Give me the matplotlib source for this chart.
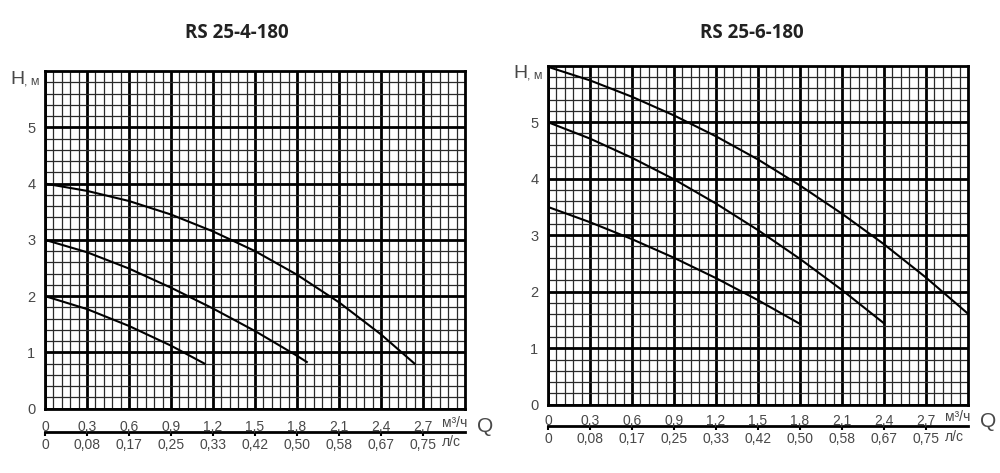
import matplotlib
matplotlib.use("Agg")
import matplotlib.pyplot as plt
from matplotlib.ticker import MultipleLocator

plt.rcParams['font.family'] = ['Liberation Sans', 'DejaVu Sans']

# ---------------- data ----------------
titles = ["RS 25-4-180", "RS 25-6-180"]
q_ticks = [0, 0.3, 0.6, 0.9, 1.2, 1.5, 1.8, 2.1, 2.4, 2.7]
q_labels = ["0", "0,3", "0,6", "0,9", "1,2", "1,5", "1,8", "2,1", "2,4", "2,7"]
ls_labels = ["0", "0,08", "0,17", "0,25", "0,33", "0,42", "0,50", "0,58", "0,67", "0,75"]
h_ticks = [0, 1, 2, 3, 4, 5]
h_labels = ["0", "1", "2", "3", "4", "5"]

# RS 25-4-180 curves (Q m3/h, H m)
a_q1 = [0, 0.3, 0.6, 0.9, 1.2, 1.5, 1.8, 2.1, 2.4, 2.64]
a_h1 = [4.0, 3.87, 3.69, 3.45, 3.15, 2.80, 2.38, 1.89, 1.32, 0.80]
a_q2 = [0, 0.3, 0.6, 0.9, 1.2, 1.5, 1.8, 1.87]
a_h2 = [3.0, 2.78, 2.49, 2.15, 1.78, 1.38, 0.94, 0.83]
a_q3 = [0, 0.3, 0.6, 0.9, 1.14]
a_h3 = [2.0, 1.77, 1.47, 1.12, 0.80]

# RS 25-6-180 curves
b_q1 = [0, 0.3, 0.6, 0.9, 1.2, 1.5, 1.8, 2.1, 2.4, 2.7, 3.0]
b_h1 = [5.98, 5.74, 5.45, 5.12, 4.75, 4.34, 3.88, 3.38, 2.84, 2.25, 1.61]
b_q2 = [0, 0.3, 0.6, 0.9, 1.2, 1.5, 1.8, 2.1, 2.4]
b_h2 = [5.0, 4.71, 4.37, 3.99, 3.56, 3.09, 2.58, 2.03, 1.44]
b_q3 = [0, 0.3, 0.6, 0.9, 1.2, 1.5, 1.8]
b_h3 = [3.5, 3.23, 2.93, 2.60, 2.24, 1.85, 1.43]

W, H = 1000, 473
fig = plt.figure(figsize=(W / 100, H / 100), dpi=100)

def px_rect(x0, y_top, x1, y_bot):
    return [x0 / W, 1 - y_bot / H, (x1 - x0) / W, (y_bot - y_top) / H]

TXT = '#484848'

def make_panel(rect, curves, title, title_xy, sec_loc, lab_pad, units_xy, q_xy, h_xy):
    ax = fig.add_axes(rect)
    ax.set_xlim(0, 3.0)
    ax.set_ylim(0, 6.0)
    ax.xaxis.set_major_locator(MultipleLocator(0.3))
    ax.xaxis.set_minor_locator(MultipleLocator(0.06))
    ax.yaxis.set_major_locator(MultipleLocator(1))
    ax.yaxis.set_minor_locator(MultipleLocator(0.2))
    ax.grid(which='minor', color='#2a2a2a', lw=0.9)
    ax.grid(which='major', color='black', lw=2.0)
    ax.set_axisbelow(True)
    for s in ax.spines.values():
        s.set_linewidth(2.0)
        s.set_color('black')
    ax.set_xticks(q_ticks)
    ax.set_xticklabels(q_labels)
    ax.set_yticks(h_ticks)
    ax.set_yticklabels(h_labels)
    ax.tick_params(which='both', length=0)
    ax.tick_params(axis='x', pad=lab_pad, labelsize=10, labelcolor=TXT)
    ax.tick_params(axis='y', pad=7, labelsize=10.5, labelcolor=TXT)
    for q, h in curves:
        ax.plot(q, h, color='black', lw=1.5, solid_joinstyle='round')
    sec = ax.secondary_xaxis(sec_loc)
    sec.set_xticks(q_ticks)
    sec.set_xticklabels(ls_labels)
    sec.spines['bottom'].set_linewidth(2.0)
    sec.tick_params(length=3, width=1.5, pad=1.5, labelsize=10, labelcolor=TXT, direction='out')
    fig.text(title_xy[0] / W, 1 - title_xy[1] / H, title, ha='center', va='center',
             fontsize=13.5, fontweight='bold', color='#222222', family=['Open Sans', 'DejaVu Sans'])
    ux, uy1, uy2 = units_xy
    fig.text(ux / W, 1 - uy1 / H, "м³/ч", ha='left', va='center', fontsize=10, color=TXT)
    fig.text(ux / W, 1 - uy2 / H, "л/с", ha='left', va='center', fontsize=10, color=TXT)
    fig.text(q_xy[0] / W, 1 - q_xy[1] / H, "Q", ha='center', va='center', fontsize=15, color=TXT)
    fig.text(h_xy[0] / W, 1 - h_xy[1] / H, "H", ha='center', va='center', fontsize=14, color=TXT)
    fig.text((h_xy[0] + 7) / W, 1 - (h_xy[1] + 1) / H, ", м", ha='left', va='center', fontsize=9, color=TXT)
    return ax

make_panel(px_rect(45, 71, 465, 408.7), [(a_q1, a_h1), (a_q2, a_h2), (a_q3, a_h3)],
           titles[0], (237, 33), -0.069, 8, (442, 423, 441.5), (485, 426), (17, 80))
make_panel(px_rect(548, 65.7, 968, 404.7), [(b_q1, b_h1), (b_q2, b_h2), (b_q3, b_h3)],
           titles[1], (752, 33), -0.063, 7, (945, 417, 437), (988, 421), (520, 74))

fig.savefig("out.png", dpi=100)
